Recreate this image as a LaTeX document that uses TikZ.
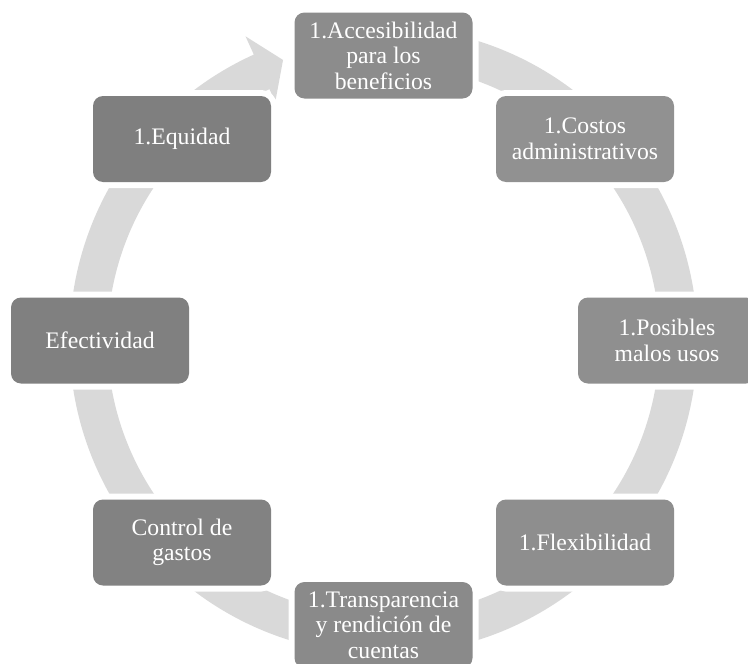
\documentclass[tikz,border=0pt]{standalone}
\usepackage{fontspec}
\setmainfont{Liberation Serif}
\definecolor{ringc}{HTML}{D9D9D9}
\definecolor{cA}{HTML}{8C8C8C}
\definecolor{cB}{HTML}{919191}
\definecolor{cC}{HTML}{8F8F8F}
\definecolor{cD}{HTML}{8E8E8E}
\definecolor{cE}{HTML}{8A8A8A}
\definecolor{cF}{HTML}{828282}
\definecolor{cG}{HTML}{808080}
\definecolor{cH}{HTML}{7F7F7F}
\begin{document}
\begin{tikzpicture}[x=1pt,y=1pt,
  box/.style={rounded corners=10pt, minimum width=178pt, minimum height=86pt,
    inner sep=0pt, align=center, text=white,
    font=\fontsize{23.7}{25.5}\selectfont,
    preaction={draw=white, line width=12pt}},
  ring/.style={fill=ringc, draw=none}]
\useasboundingbox (0,0) rectangle (748,-664);
\coordinate (c) at (383.5,-340.5);
% continuous circular arrow
\path[ring] ([shift={(c)}]85:314pt) arc[start angle=85, end angle=-245.6, radius=314pt]
  -- ([shift={(c)}]-245.6:334pt)
  -- ([shift={(c)}]-250.3:298pt)
  -- ([shift={(c)}]-245.6:262pt)
  -- ([shift={(c)}]-245.6:276pt)
  arc[start angle=-245.6, end angle=85, radius=276pt] -- cycle;
% boxes
\node[box, fill=cA] (acc) at (383.5,-55.5) {1.Accesibilidad\\para los\\beneficios};
\node[box, fill=cB] (cos) at (585,-139) {1.Costos\\administrativos};
\node[box, fill=cC] (pos) at (667,-340.5) {1.Posibles\\malos usos};
\node[box, fill=cD] (fle) at (585,-542.5) {1.Flexibilidad};
\node[box, fill=cE] (tra) at (383.5,-625) {1.Transparencia\\y rendición de\\cuentas};
\node[box, fill=cF] (con) at (182,-542.5) {Control de\\gastos};
\node[box, fill=cG] (efe) at (100,-340.5) {Efectividad};
\node[box, fill=cH] (equ) at (182,-139) {1.Equidad};
\end{tikzpicture}
\end{document}
